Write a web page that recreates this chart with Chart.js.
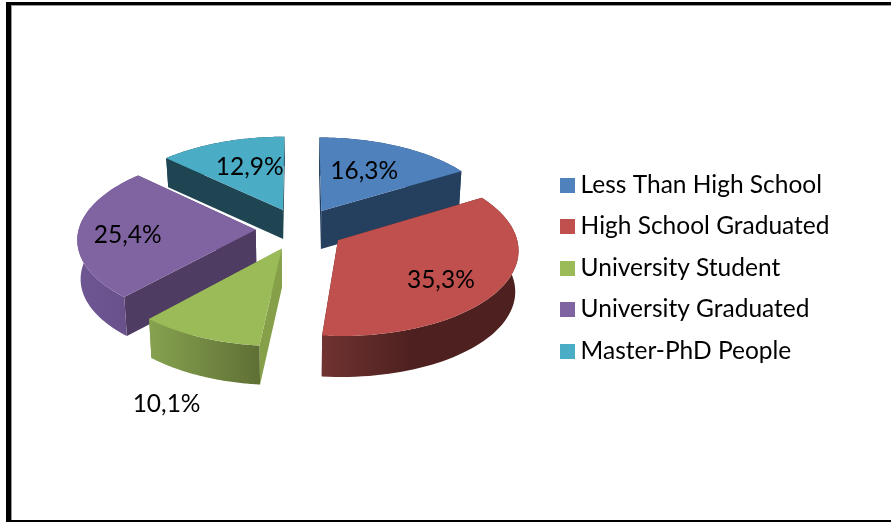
<!DOCTYPE html>
<html><head><meta charset="utf-8">
<script src="https://cdn.jsdelivr.net/npm/chart.js@4"></script>
<style>
html,body{margin:0;padding:0;background:#fff;overflow:hidden}
#frame{position:absolute;left:6px;top:2px;width:900px;height:515px;border-left:5px solid #000;border-top:3px solid #000;border-bottom:2px solid #000;box-shadow:inset 1px 1px 0 #999}
#wrap{position:absolute;left:0;top:0;width:891px;height:522px}
</style></head><body>
<div id="frame"></div>
<div id="wrap"><canvas id="c" width="891" height="522"></canvas></div>
<script>
const categories = ['Less Than High School','High School Graduated','University Student','University Graduated','Master-PhD People'];
const shares = [16.3,35.3,10.1,25.4,12.9];
const topColors = ['#4f81bd','#c0504d','#9bbb59','#8064a2','#4bacc6'];
const edgeWallColors = ['#253f5f','#4e2120','#86a049','#4f3c63','#1f4552'];
const rimWallColors = [['#253f5f','#253f5f'],['#703331','#4e2120'],['#86a24f','#5f7035'],['#6e5692','#67508a'],['#1f4552','#1f4552']];
const wallDepths = [38,41,39,39,29];
const labelAngleShift = [-2.5,7,-4.7,-2.4,3];
const labelRadius = [0.59,0.697,1.595,0.72,0.6];
const paintOrder = [4,0,3,1,2];
const view = {cx:300,cy:229,sx:177,sy:84,persp:0.097,explode:0.25,bottomShrink:0.985};
const textFont = 'Lato, Carlito, sans-serif';

function project(X,Y,drop){
  const w = 1 - view.persp*Y;
  let x = view.cx + view.sx*X/w, y = view.cy + view.sy*Y/w;
  if(drop){ x = view.cx + (x-view.cx)*view.bottomShrink; y += drop; }
  return [x,y];
}
function planePoint(a0,a,r){
  return [view.explode*Math.cos(a0)+r*Math.cos(a), view.explode*Math.sin(a0)+r*Math.sin(a)];
}
function poly(ctx,pts,fill){
  ctx.beginPath();
  pts.forEach((p,i)=> i?ctx.lineTo(p[0],p[1]):ctx.moveTo(p[0],p[1]));
  ctx.closePath(); ctx.fillStyle = fill; ctx.fill();
}
const pie3d = {
  id:'pie3d',
  beforeDatasetDraw(){ return false; },
  afterDatasetsDraw(chart){
    const ctx = chart.ctx, arcs = chart.getDatasetMeta(0).data;
    ctx.save();
    paintOrder.forEach(i=>{
      const s = arcs[i].startAngle, e = arcs[i].endAngle, m = (s+e)/2, d = wallDepths[i];
      const N = 64, rimTop = [], rimBot = [];
      for(let k=0;k<=N;k++){
        const a = s+(e-s)*k/N, q = planePoint(m,a,1);
        rimTop.push(project(q[0],q[1],0)); rimBot.push(project(q[0],q[1],d));
      }
      const c = planePoint(m,m,0), apex = project(c[0],c[1],0), apexB = project(c[0],c[1],d);
      poly(ctx,[apex,rimTop[0],rimBot[0],apexB],edgeWallColors[i]);
      poly(ctx,[apex,rimTop[N],rimBot[N],apexB],edgeWallColors[i]);
      const xs = rimTop.map(p=>p[0]), g = ctx.createLinearGradient(Math.min(...xs),0,Math.max(...xs),0);
      g.addColorStop(0,rimWallColors[i][0]);
      g.addColorStop(i===1?0.45:1,rimWallColors[i][1]);
      if(i===1) g.addColorStop(1,rimWallColors[i][1]);
      poly(ctx,rimTop.concat(rimBot.slice().reverse()),g);
      poly(ctx,[apex].concat(rimTop),arcs[i].options.backgroundColor);
    });
    ctx.fillStyle='#000'; ctx.textAlign='center'; ctx.textBaseline='middle';
    ctx.font='24.5px '+textFont;
    arcs.forEach((arc,i)=>{
      const m=(arc.startAngle+arc.endAngle)/2, la=m+labelAngleShift[i]*Math.PI/180;
      const q=planePoint(m,la,labelRadius[i]), p=project(q[0],q[1],0);
      ctx.fillText(shares[i].toFixed(1).replace('.',',')+'%',p[0],p[1]);
    });
    ctx.restore();
  }
};
function swatch(color){
  const cv=document.createElement('canvas'); cv.width=15; cv.height=15;
  const x=cv.getContext('2d'); x.fillStyle=color; x.fillRect(0,0,15,15); return cv;
}
new Chart(document.getElementById('c'),{
  type:'pie',
  data:{labels:categories,datasets:[{data:shares,backgroundColor:topColors,borderWidth:0}]},
  options:{
    responsive:false,animation:false,
    layout:{padding:{top:14,right:51.5}},
    plugins:{
      tooltip:{enabled:false},
      legend:{position:'right',labels:{
        usePointStyle:true,pointStyleWidth:1,boxHeight:15,padding:17,color:'#111',
        font:{family:textFont,size:24.5},
        generateLabels:()=>categories.map((t,i)=>({text:t,fillStyle:topColors[i],strokeStyle:topColors[i],lineWidth:0,hidden:false,index:i,pointStyle:swatch(topColors[i])}))
      }}
    }
  },
  plugins:[pie3d]
});
</script>
</body></html>
